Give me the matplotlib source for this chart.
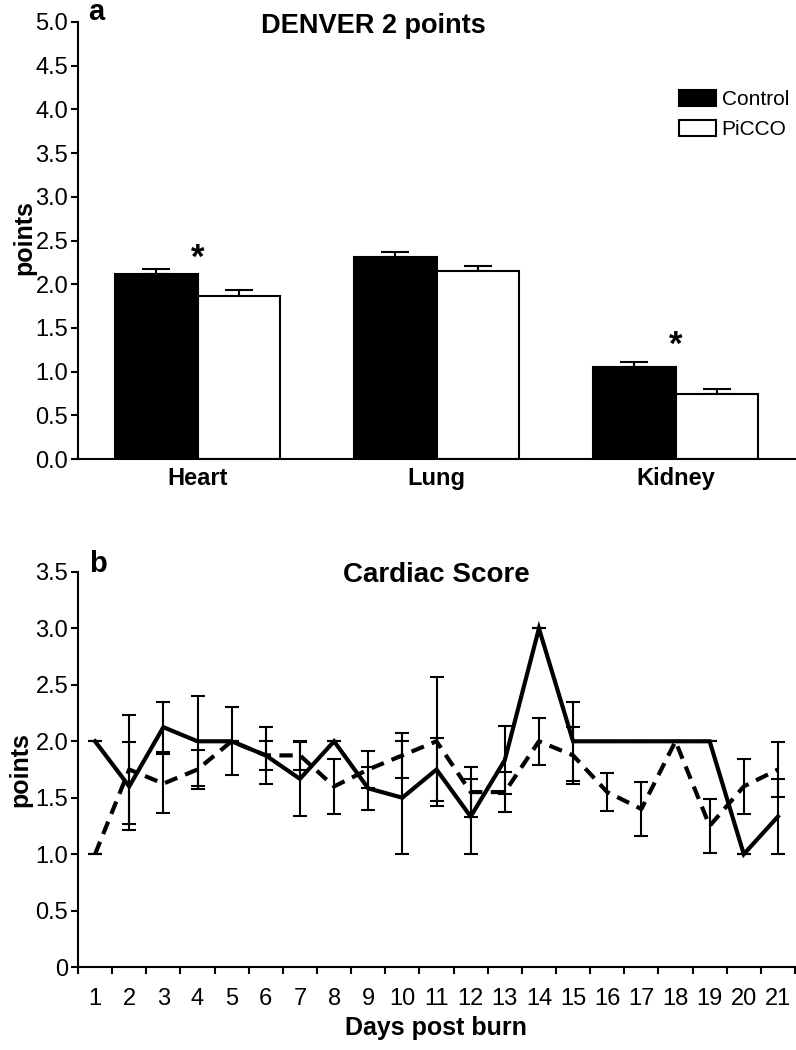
import numpy as np
import matplotlib
matplotlib.use('Agg')
from matplotlib import pyplot as plt
from matplotlib.ticker import FixedLocator

plt.rcParams['font.family'] = ['Liberation Sans', 'DejaVu Sans']

# Panel a: DENVER 2 points
organs = ['Heart', 'Lung', 'Kidney']
control_mean = [2.12, 2.31, 1.05]
control_sem = [0.05, 0.06, 0.06]
picco_mean = [1.865, 2.15, 0.74]
picco_sem = [0.065, 0.06, 0.06]
star_organs = ['Heart', 'Kidney']
star_y = [2.29, 1.30]

# Panel b: Cardiac score per day
days = list(range(1, 22))
cardiac_control = [2.0, 1.6, 2.125, 2.0, 2.0, 1.875, 1.667, 2.0, 1.583, 1.5, 1.75,
                   1.333, 1.833, 3.0, 2.0, 2.0, 2.0, 2.0, 2.0, 1.0, 1.333]
cardiac_control_err = [0, 0.39, 0.22, 0.4, 0.3, 0.25, 0.33, 0, 0.19, 0.5, 0.28,
                       0.33, 0.3, 0, 0.35, 0, 0, 0, 0, 0, 0.33]
cardiac_picco = [1.0, 1.75, 1.625, 1.75, 2.0, 1.875, 1.875, 1.6, 1.75, 1.875, 2.0,
                 1.55, 1.55, 2.0, 1.875, 1.55, 1.4, 2.0, 1.25, 1.6, 1.75]
cardiac_picco_err = [0, 0.48, 0.26, 0.17, 0, 0.125, 0.125, 0.24, 0.165, 0.2, 0.57,
                     0.22, 0.18, 0.21, 0.25, 0.17, 0.24, 0, 0.24, 0.24, 0.24]

W, H = 796, 1050
fig = plt.figure(figsize=(W / 100, H / 100), dpi=100)


def px(x, y):
    return x / W, 1 - y / H


def style_axes(ax):
    for s in ['top', 'right']:
        ax.spines[s].set_visible(False)
    for s in ['left', 'bottom']:
        ax.spines[s].set_linewidth(1.5)
    ax.tick_params(axis='y', direction='out', length=5, width=1.5, pad=2, labelsize=17)


# ---- panel a ----
ax1 = fig.add_axes([78 / W, 1 - 459 / H, (795 - 78) / W, (459 - 22) / H])
style_axes(ax1)
x = np.arange(len(organs))
w = 0.345
b1 = ax1.bar(x - w / 2, control_mean, w, color='black', edgecolor='black',
             linewidth=1.5, label='Control', zorder=2)
b2 = ax1.bar(x + w / 2, picco_mean, w, color='white', edgecolor='black',
             linewidth=1.5, label='PiCCO', zorder=2)
ax1.errorbar(x - w / 2, control_mean, yerr=[[0] * 3, control_sem], fmt='none',
             ecolor='black', elinewidth=1.5, capsize=10, capthick=1.5, zorder=1)
ax1.errorbar(x + w / 2, picco_mean, yerr=[[0] * 3, picco_sem], fmt='none',
             ecolor='black', elinewidth=1.5, capsize=10, capthick=1.5, zorder=1)
for org, sy in zip(star_organs, star_y):
    ax1.text(organs.index(org), sy, '*', ha='center', va='center',
             fontsize=25, fontweight='bold')
ax1.set_xlim(-0.5, 2.5)
ax1.set_ylim(0, 5)
ax1.set_yticks(np.arange(0, 5.01, 0.5))
ax1.set_yticklabels([f'{v:.1f}' for v in np.arange(0, 5.01, 0.5)])
ax1.set_xticks(x)
ax1.set_xticklabels(organs, fontsize=17, fontweight='bold')
ax1.tick_params(axis='x', length=0, pad=6)
ax1.legend(handles=[b1, b2], loc='upper left', bbox_to_anchor=(0.838, 0.845),
           frameon=False, fontsize=15, handlelength=1.8, handleheight=0.85,
           handletextpad=0.25, labelspacing=0.5, borderpad=0, borderaxespad=0)

fig.text(*px(96, 20), 'a', fontsize=21, fontweight='bold', ha='center', va='baseline')
fig.text(*px(373, 33), 'DENVER 2 points', fontsize=19.5, fontweight='bold',
         ha='center', va='baseline')
fig.text(*px(24, 238), 'points', fontsize=18, fontweight='bold', rotation=90,
         ha='center', va='center')

# ---- panel b ----
ax2 = fig.add_axes([78 / W, 1 - 967 / H, (795 - 78) / W, (967 - 572) / H])
style_axes(ax2)
ax2.errorbar(days, cardiac_control, yerr=cardiac_control_err, color='black',
             linewidth=3, ecolor='black', elinewidth=1.5, capsize=4.7, capthick=1.5,
             solid_joinstyle='miter')
ax2.errorbar(days, cardiac_picco, yerr=cardiac_picco_err, color='black',
             linewidth=3, linestyle=(0, (3.2, 2)), ecolor='black', elinewidth=1.5,
             capsize=4.7, capthick=1.5)
ax2.set_xlim(0.5, 21.5)
ax2.set_ylim(0, 3.5)
yt = np.arange(0, 3.51, 0.5)
ax2.set_yticks(yt)
ax2.set_yticklabels(['0'] + [f'{v:.1f}' for v in yt[1:]])
ax2.xaxis.set_major_locator(FixedLocator(np.arange(0.5, 21.6, 1)))
ax2.xaxis.set_minor_locator(FixedLocator(days))
ax2.set_xticklabels([], minor=False)
ax2.set_xticklabels([str(d) for d in days], minor=True)
ax2.tick_params(axis='x', which='major', direction='out', length=5, width=1.5)
ax2.tick_params(axis='x', which='minor', length=0, pad=15, labelsize=17)

fig.text(*px(98, 572), 'b', fontsize=21, fontweight='bold', ha='center', va='baseline')
fig.text(*px(436, 582), 'Cardiac Score', fontsize=20, fontweight='bold',
         ha='center', va='baseline')
fig.text(*px(20, 770), 'points', fontsize=18, fontweight='bold', rotation=90,
         ha='center', va='center')
fig.text(*px(436, 1035), 'Days post burn', fontsize=18, fontweight='bold',
         ha='center', va='baseline')

plt.savefig('out.png', dpi=100)
